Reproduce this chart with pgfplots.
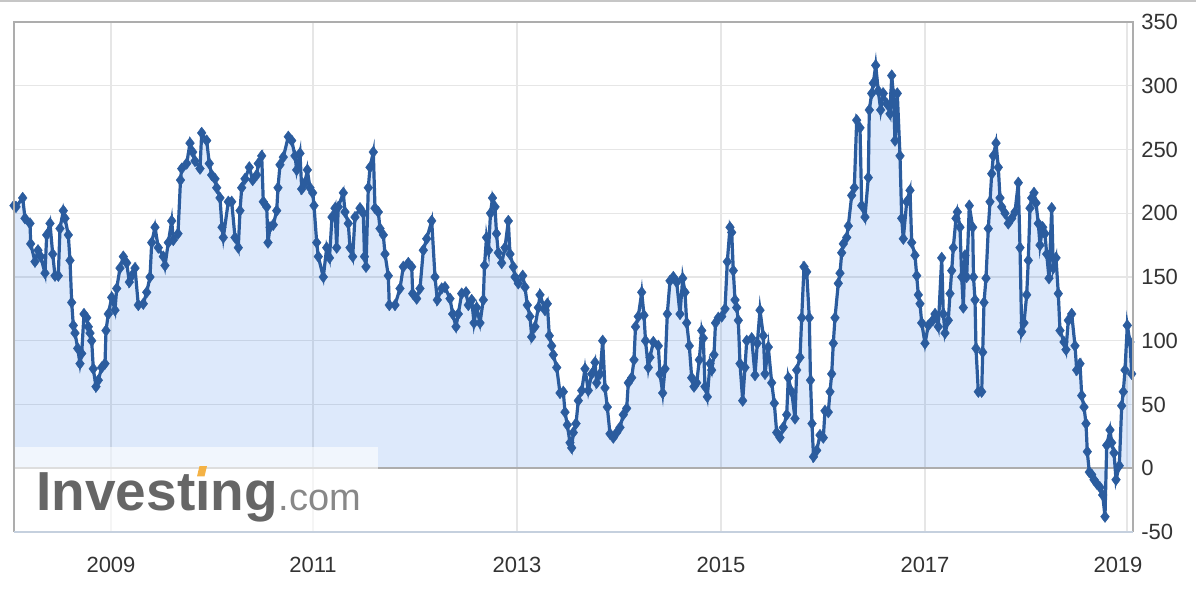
\documentclass[border=0pt]{standalone}
\usepackage{fontspec}
\setmainfont{Liberation Sans}
\usepackage{pgfplots}
\usepackage{pgfplotstable}
\pgfplotsset{compat=1.18}

\definecolor{linecolor}{HTML}{2B5C9E}
\definecolor{fillblue}{RGB}{28,108,228}
\definecolor{gridgray}{HTML}{E6E6E6}
\definecolor{framegray}{HTML}{ADADAD}
\definecolor{bottomline}{HTML}{C5D0DE}
\definecolor{labelgray}{HTML}{333333}
\definecolor{logogray}{HTML}{666666}
\definecolor{logolight}{HTML}{888888}
\definecolor{logoorange}{HTML}{F4B245}

% weekly series; px = horizontal position (2009 = 111, 2011 = 313, ...), v = value
\pgfplotstableread{
px v
14 206
16 205
22.7 212
25 196
30 192
30.7 176
35 162
38 171
40.7 166
45 153
46.7 183
50 192
52.7 168
55 151
58.3 151
60 188
63.3 202
65 196
68.3 183
70 163
71.7 130
73.3 112
75 106
77.7 94
80 82
81.7 90
84 121
86.7 118
88.3 111
90 106
91.7 100
93.3 78
96 64
98.3 69
101.7 79
105 82
106 108
108.3 121
111.7 134
115 124
116.7 141
120 157
123.3 166
126.7 161
129.3 146
131.7 151
135 157
138.3 128
143.3 129
146.7 138
150 150
151.7 177
155 189
158.3 173
163.3 166
165 159
168.3 177
171.7 194
173.3 179
178 184
180.5 226
181.7 235
186.7 239
190 255
192.7 248
195 241
200 235
201.7 263
206.7 257
209.3 239
211.7 230
215 227
216.7 220
220 212
222 189
223.3 181
228.3 209
231.7 209
235 181
238.3 173
240 202
241.7 220
245 227
249.3 236
252.7 226
256.7 230
258.3 239
261.7 245
263.3 209
266.7 205
268 177
270 189
273.3 191
276.7 202
278 220
280 238
283.3 244
288.3 260
291.7 257
295 245
296.7 234
300 247
301.7 219
305 224
307.3 234
310 220
312.7 216
314 206
316.7 177
318.3 166
323.3 150
326.7 173
329.5 165
332 197
335 204
336.7 173
338.3 205
343.3 216
345 201
348.3 192
350 173
352.7 166
355 197
360 204
363.3 200
364.5 166
366 158
368.3 220
370 236
373.3 248
375 204
378.3 201
380 188
383.3 183
385 168
388.3 151
389.3 128
395 128
400 141
403.3 158
408.3 161
411.7 158
412.7 137
416.7 133
420 141
423.3 171
426.7 180
431.7 194
435 150
437.3 132
441.7 141
445 142
450 133
452.7 121
456 111
458.3 121
461.7 137
466 138
468.3 128
471.7 132
474 114
476.7 126
480 114
483.3 132
484.5 159
486.5 181
488.5 171
490.5 200
492.5 212
495 205
496.5 184
498.3 169
501.7 161
505 173
508.3 194
510 168
513.3 158
515 150
518.3 145
522.7 151
525 142
527.3 128
530 119
531.7 103
535 111
538.3 126
540 136
545 124
547.3 129
549.3 104
551.7 96
553.3 89
556.7 79
560 59
563.3 60
565 44
567.3 34
570 20
571.7 16
573.3 28
576 35
578.3 53
581.7 61
585 78
588.3 61
591.7 74
595 83
596.7 67
600 74
602.7 100
605 63
607.3 48
610 27
613.3 24
616.7 28
620 32
623.3 42
626.7 47
628.3 67
631.7 71
634 85
635.5 111
638.3 119
641.7 138
644 120
645.5 100
648.3 79
650 87
653.3 99
658.3 96
660 74
662.7 59
665 78
667.3 121
670 147
673.3 150
676.7 146
680 121
682.7 149
685 138
686.7 114
689.3 96
691.7 71
694 64
696.7 67
699.3 85
701.7 108
703.3 102
705 64
707.3 56
710 82
711.7 77
714 89
715.5 114
718.3 118
721.7 119
725 125
727.3 162
730 189
731.7 185
733.3 155
735 132
736.7 126
738.3 116
740 82
742.7 53
745 79
746.7 100
751.7 102
755 73
757.3 98
760 124
763.3 104
765 74
768.3 95
771.7 67
774.3 51
776.7 28
780 24
783.3 32
786.7 42
788.3 71
791.7 60
795 39
796.7 77
800 87
801.7 118
804 158
806.7 154
809.3 118
810.5 69
812 35
813.5 9
816.7 14
820 26
823.3 24
825 45
828.3 44
830 60
831.7 74
833.3 98
835 118
838.3 145
840 153
841.7 169
843.3 176
846.7 181
848.3 190
851.7 214
854.3 220
856.7 273
860 267
861.7 206
865 197
868.3 228
869.3 281
871.7 294
873.3 302
875.7 316
878.3 296
880.7 281
883.3 294
886.7 286
890 278
891.7 308
893.3 294
895 257
897.3 294
900 245
901.7 196
903.3 180
906.7 209
910 218
911.7 177
915 167
916.7 151
918.3 136
920 129
921.7 114
925 98
928.3 112
932.7 116
935 121
938.3 111
941.7 165
943.3 121
945 106
948.3 116
950 137
951.7 155
953.3 173
956 196
957.3 201
960 189
961.7 150
963.3 126
965 167
966.7 150
969.3 206
972.7 189
973.5 150
975 132
976 94
978.3 60
981.7 60
982.7 91
984 130
986 149
988.3 188
990 209
991.7 231
993.3 245
996 255
998.3 236
1000 212
1001.7 205
1005 200
1008.3 192
1011.7 196
1015 201
1018.3 224
1020 173
1021.7 107
1024 114
1026.7 136
1028.3 163
1030 204
1031.7 212
1034 216
1036 208
1038.3 192
1040 175
1042.7 189
1045 184
1046.7 168
1049 149
1051.7 204
1053.3 157
1056 165
1058.3 137
1060 108
1064 99
1066 93
1068.3 116
1071.7 121
1075 96
1076.7 77
1080 82
1081.7 57
1084 48
1086 35
1087.3 13
1089.3 -3
1091.7 -5
1094 -9
1096.7 -12
1100 -15
1102.7 -21
1105 -38
1106.7 18
1110 30
1111.7 20
1114 12
1116 -9
1119.3 2
1121.7 49
1123.3 60
1125 77
1127.3 112
1130 99
1131.7 74
}\data

\begin{document}
\begin{tikzpicture}
\begin{axis}[
    name=ax,
    scale only axis,
    width=559.5pt, height=255pt,
    xmin=14, xmax=1133,
    ymin=-50, ymax=350,
    xtick={111,313,517,721,925,1127},
    xticklabels={2009,2011,2013,2015,2017,\hspace*{-9pt}2019},
    ytick={-50,0,50,100,150,200,250,300,350},
    yticklabels={-50,0,50,100,150,200,250,300,350},
    yticklabel pos=right,
    major tick length=0pt,
    axis line style={draw=none},
    grid=major,
    major grid style={draw=gridgray, line width=0.6pt},
    tick label style={font=\fontsize{11}{13}\selectfont, text=labelgray},
    x tick label style={yshift=-8.8pt},
    y tick label style={xshift=0.6pt},
]
\addplot[draw=none, fill=fillblue, fill opacity=0.15] table[x=px, y=v] {\data} \closedcycle;
\draw[framegray, line width=0.9pt] (axis cs:14,0) -- (axis cs:1133,0);
\addplot[linecolor, line width=1.6pt, mark=diamond*,
    mark size=2.9pt, mark options={solid, fill=linecolor, draw=linecolor, line width=0.2pt}]
    table[x=px, y=v] {\data};
% watermark
\fill[white, opacity=0.6] (axis cs:14,-50) rectangle (axis cs:378,16.5);
\node[anchor=base west, inner sep=0pt, text=logogray,
    font=\fontsize{27.5}{30}\selectfont\bfseries] (logo) at (axis cs:36,-33.5) {Invest\i ng};
\node[anchor=base west, inner sep=0pt, text=logolight,
    font=\fontsize{19}{22}\selectfont] at (logo.base east) {.com};
\fill[logoorange] (axis cs:197,-6.3) -- (axis cs:199.5,1.6) -- (axis cs:207,1.6) -- (axis cs:204.5,-6.3) -- cycle;
\end{axis}
\draw[framegray, line width=0.9pt] (ax.south west) -- (ax.north west) -- (ax.north east) -- (ax.south east);
\draw[bottomline, line width=0.9pt] (ax.south west) -- (ax.south east);
\draw[gray!45, line width=1pt] ([xshift=-7pt, yshift=10.5pt]ax.north west) -- ([xshift=31.5pt, yshift=10.5pt]ax.north east);
\pgfresetboundingbox
\path ([xshift=-7pt, yshift=-31pt]ax.south west) rectangle ([xshift=31.5pt, yshift=11pt]ax.north east);
\end{tikzpicture}
\end{document}
